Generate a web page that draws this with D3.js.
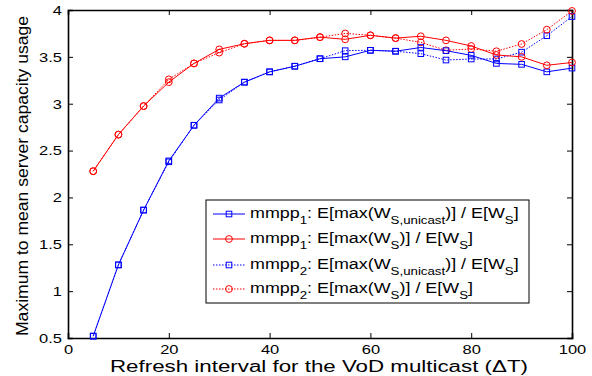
<!DOCTYPE html>
<html>
<head>
<meta charset="utf-8">
<script src="https://cdn.jsdelivr.net/npm/d3@7"></script>
<style>
  body { margin: 0; background: #fff; }
  svg text { font-family: "Liberation Sans", Arial, sans-serif; fill: #000; }
</style>
</head>
<body>
<svg id="chart" width="592" height="376"></svg>
<script>
const width = 592, height = 376;
const margin = {top: 10, right: 20, bottom: 38, left: 68};

// refresh interval (delta T)
const refresh = [5, 10, 15, 20, 25, 30, 35, 40, 45, 50, 55, 60, 65, 70, 75, 80, 85, 90, 95, 100];

const mmpp1Unicast = [0.52, 1.28, 1.865, 2.39, 2.77, 3.06, 3.23, 3.34, 3.40, 3.48, 3.50, 3.57, 3.56, 3.60, 3.566, 3.516, 3.43, 3.42, 3.34, 3.38];
const mmpp1Max     = [2.28, 2.67, 2.975, 3.23, 3.43, 3.58, 3.64, 3.676, 3.676, 3.71, 3.687, 3.73, 3.70, 3.72, 3.676, 3.616, 3.52, 3.50, 3.41, 3.44];
const mmpp2Unicast = [0.52, 1.28, 1.865, 2.38, 2.77, 3.04, 3.23, 3.34, 3.40, 3.48, 3.566, 3.57, 3.56, 3.534, 3.466, 3.477, 3.477, 3.55, 3.726, 3.93];
const mmpp2Max     = [2.28, 2.67, 2.975, 3.26, 3.43, 3.545, 3.64, 3.676, 3.676, 3.71, 3.75, 3.73, 3.70, 3.655, 3.57, 3.584, 3.56, 3.637, 3.79, 3.99];

const xTicks = [0, 20, 40, 60, 80, 100];
const yTicks = [0.5, 1, 1.5, 2, 2.5, 3, 3.5, 4];

const series = [
  {name: "1", sub: "S,unicast", values: mmpp1Unicast, color: "#0000ff", marker: "square", dash: null},
  {name: "1", sub: "S",         values: mmpp1Max,     color: "#ff0000", marker: "circle", dash: null},
  {name: "2", sub: "S,unicast", values: mmpp2Unicast, color: "#0000ff", marker: "square", dash: "1.5,1.5"},
  {name: "2", sub: "S",         values: mmpp2Max,     color: "#ff0000", marker: "circle", dash: "1.5,1.5"}
];

const svg = d3.select("#chart");
const x = d3.scaleLinear().domain([0, 100]).range([margin.left, width - margin.right]);
const y = d3.scaleLinear().domain([0.5, 4]).range([height - margin.bottom, margin.top]);

// the original figure is stretched sideways, widen glyphs to match
const stretch = 1.22;
function widen(sel, f) {
  sel.each(function() {
    const len = this.getComputedTextLength();
    d3.select(this).attr("textLength", len * f).attr("lengthAdjust", "spacingAndGlyphs");
  });
}

// axes (ticks pointing inward, mirrored on top/right)
const tickLen = 5;
svg.append("g").attr("transform", `translate(0,${y(0.5)})`)
  .call(d3.axisBottom(x).tickValues(xTicks).tickSize(-tickLen).tickPadding(6))
  .call(g => g.selectAll("text").attr("font-size", 13.5));
svg.append("g").attr("transform", `translate(0,${y(4)})`)
  .call(d3.axisTop(x).tickValues(xTicks).tickSize(-tickLen).tickFormat(""));
svg.append("g").attr("transform", `translate(${x(0)},0)`)
  .call(d3.axisLeft(y).tickValues(yTicks).tickSize(-tickLen).tickPadding(6).tickFormat(d3.format("")))
  .call(g => g.selectAll("text").attr("font-size", 13.5));
svg.append("g").attr("transform", `translate(${x(100)},0)`)
  .call(d3.axisRight(y).tickValues(yTicks).tickSize(-tickLen).tickFormat(""));
svg.selectAll(".domain").attr("stroke", "#000").attr("stroke-width", 1.6);
svg.selectAll(".tick line").attr("stroke", "#000");
svg.selectAll(".tick text").style("font-family", "Liberation Sans, Arial, sans-serif");
widen(svg.selectAll(".tick text"), stretch);

// axis labels
svg.append("text")
  .attr("x", 319).attr("y", 372)
  .attr("text-anchor", "middle").attr("font-size", 16)
  .attr("textLength", 418).attr("lengthAdjust", "spacingAndGlyphs")
  .text("Refresh interval for the VoD multicast (\u0394T)");
svg.append("text")
  .attr("transform", `translate(28,176) rotate(-90)`)
  .attr("text-anchor", "middle").attr("font-size", 16.5)
  .attr("textLength", 320).attr("lengthAdjust", "spacingAndGlyphs")
  .text("Maximum to mean server capacity usage");

const line = d3.line().x((d, i) => x(refresh[i])).y(d => y(d));

function drawMarker(g, type, color, cx, cy) {
  if (type === "square") {
    g.append("rect").attr("x", cx - 2.8).attr("y", cy - 2.8).attr("width", 5.6).attr("height", 5.6)
      .attr("fill", "none").attr("stroke", color).attr("stroke-width", 1);
  } else {
    g.append("circle").attr("cx", cx).attr("cy", cy).attr("r", 3.4)
      .attr("fill", "none").attr("stroke", color).attr("stroke-width", 1);
  }
}

// draw series (dotted ones first, solid on top)
[2, 3, 0, 1].forEach(k => {
  const s = series[k];
  const g = svg.append("g");
  g.append("path").datum(s.values).attr("d", line)
    .attr("fill", "none").attr("stroke", s.color).attr("stroke-width", 1)
    .attr("stroke-dasharray", s.dash);
  s.values.forEach((v, i) => drawMarker(g, s.marker, s.color, x(refresh[i]), y(v)));
});

// legend
const lg = svg.append("g");
lg.append("rect").attr("x", 206).attr("y", 200).attr("width", 323).attr("height", 103)
  .attr("fill", "#fff").attr("stroke", "#000").attr("stroke-width", 1);
const rowY = [214, 239, 265, 289];
const rows = [];
series.forEach((s, i) => {
  const cy = rowY[i];
  lg.append("line").attr("x1", 213).attr("x2", 245).attr("y1", cy).attr("y2", cy)
    .attr("stroke", s.color).attr("stroke-width", 1).attr("stroke-dasharray", s.dash);
  drawMarker(lg, s.marker, s.color, 229, cy);
  const tg = lg.append("g").attr("transform", `translate(250,${cy + 4})`);
  const t = tg.append("text").attr("font-size", 15.5);
  t.append("tspan").text("mmpp");
  t.append("tspan").attr("font-size", 11.5).attr("dy", 6).text(s.name);
  t.append("tspan").attr("dy", -6).text(": E[max(W");
  t.append("tspan").attr("font-size", 11.5).attr("dy", 6).text(s.sub);
  t.append("tspan").attr("dy", -6).text(")] / E[W");
  t.append("tspan").attr("font-size", 11.5).attr("dy", 6).text("S");
  t.append("tspan").attr("dy", -6).text("]");
  rows.push(tg);
});
// stretch legend text so the first row ends where the original does (x ~ 519)
const sx = 269 / rows[0].select("text").node().getBBox().width;
rows.forEach((tg, i) => tg.attr("transform", `translate(250,${rowY[i] + 4}) scale(${sx},1)`));
</script>
</body>
</html>
